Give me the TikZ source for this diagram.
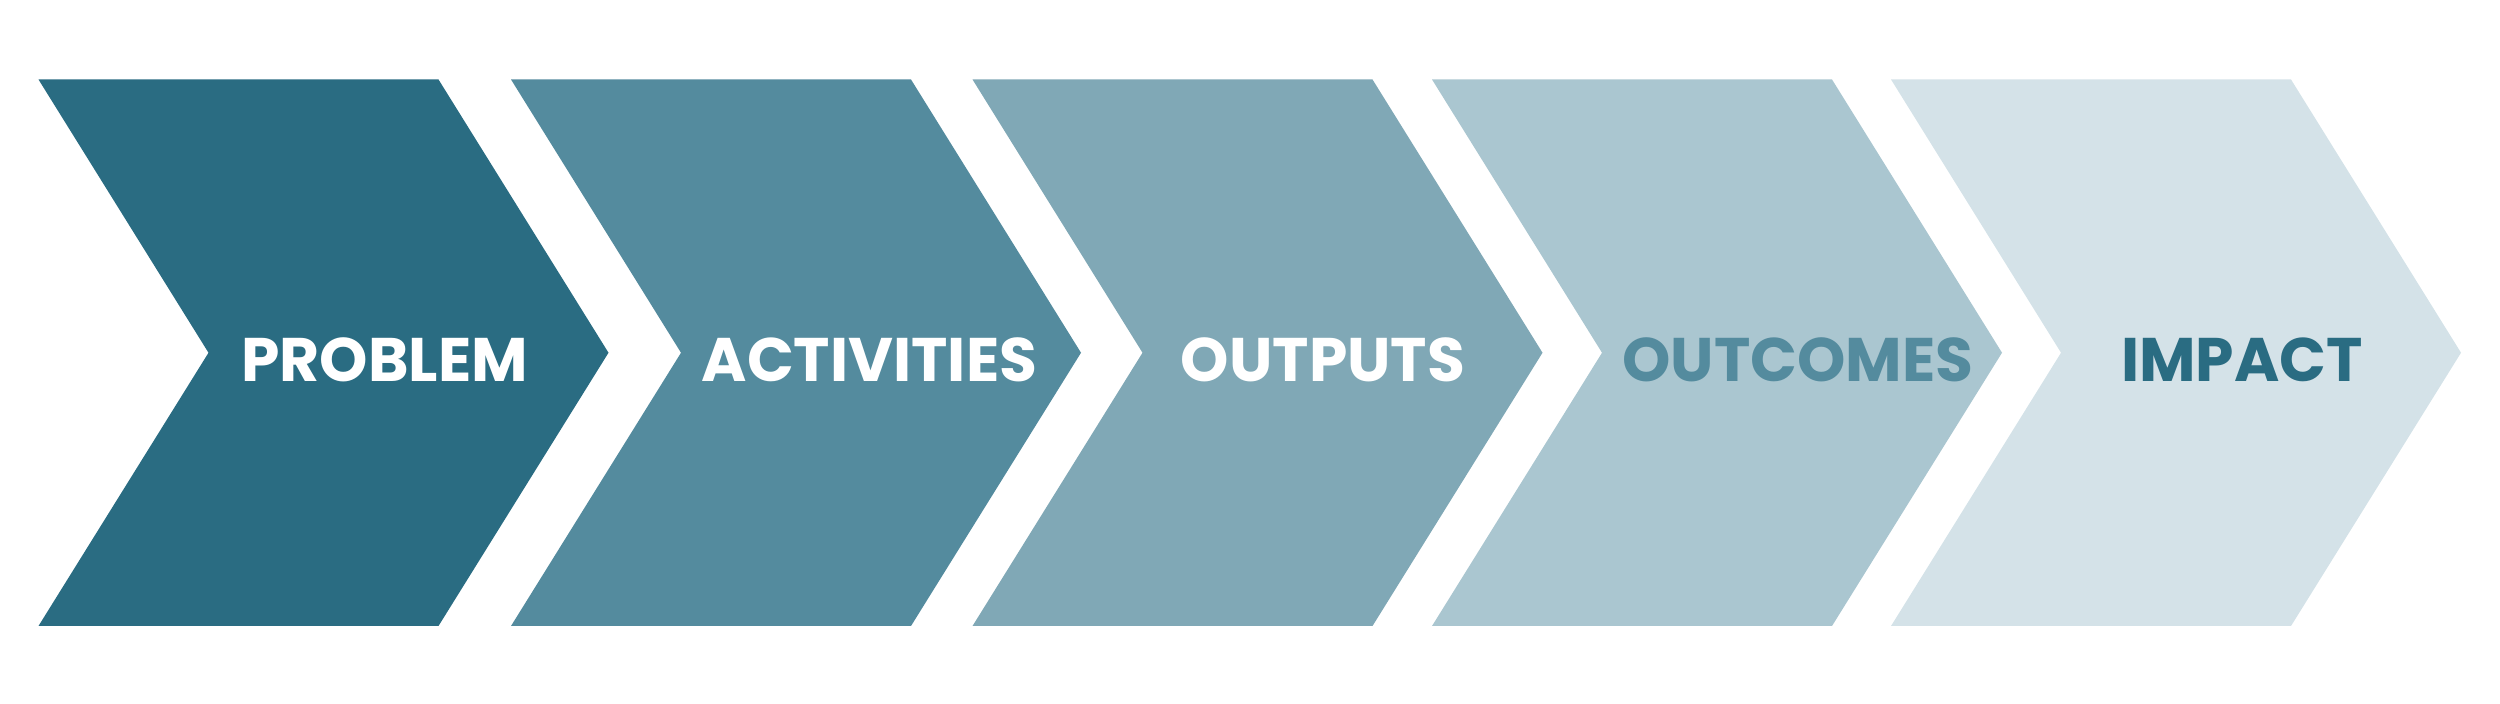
\documentclass[tikz,border=0pt]{standalone}
\usepackage{fontspec}
\setmainfont{Poppins}
\definecolor{cA}{HTML}{2A6C82}
\definecolor{cB}{HTML}{548B9E}
\definecolor{cC}{HTML}{80A8B6}
\definecolor{cD}{HTML}{AAC6D0}
\definecolor{cE}{HTML}{D4E2E8}
\tikzset{
  lbl/.style={anchor=base, inner sep=0pt, font=\fontsize{17.5pt}{20pt}\selectfont\bfseries},
}
\newcommand{\mychev}[2]{\fill[#2] (#1,79.5) -- ++(400,0) -- ++(170,273.25) -- ++(-170,273.25) -- ++(-400,0) -- ++(170,-273.25) -- cycle;}
\begin{document}
\begin{tikzpicture}[x=0.01cm,y=-0.01cm]
\useasboundingbox (0,0) rectangle (2500,704);
\mychev{38.5}{cA}
\mychev{511}{cB}
\mychev{972.5}{cC}
\mychev{1432}{cD}
\mychev{1891}{cE}
\node[lbl, text=white] (problem) at (384.5,382) {PROBLEM};
\node[lbl, text=white] (activities) at (869.5,382) {ACTIVITIES};
\node[lbl, text=white] (outputs) at (1323,382) {OUTPUTS};
\node[lbl, text=cB] (outcomes) at (1798,382) {OUTCOMES};
\node[lbl, text=cA] (impact) at (2242,382) {IMPACT};
\end{tikzpicture}
\end{document}
